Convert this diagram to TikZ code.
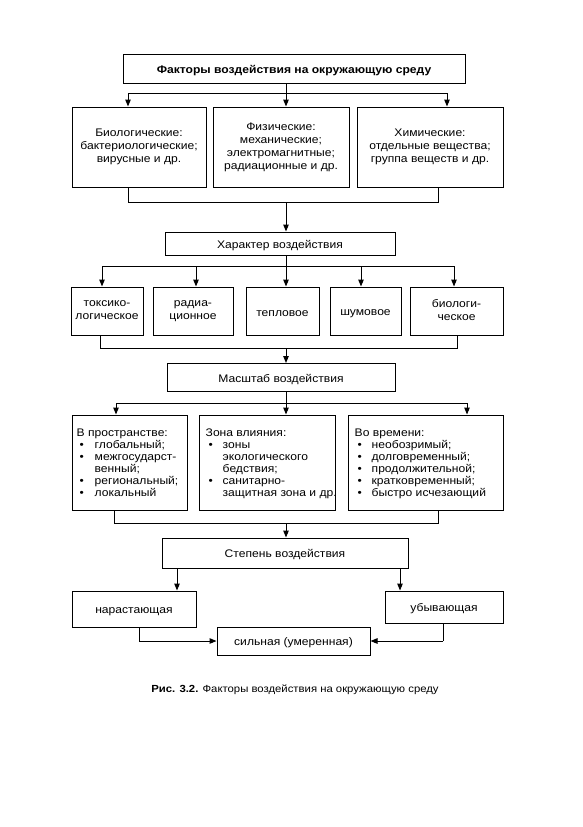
\documentclass[tikz,border=0pt]{standalone}
\usepackage{fontspec}
\setmainfont[FakeStretch=1.1]{Liberation Sans}
\usetikzlibrary{arrows.meta}
\begin{document}
\begin{tikzpicture}[x=1pt,y=-1pt,
  bx/.style={draw,line width=1pt,inner sep=0pt,align=center,
    font=\fontsize{11}{13}\selectfont,
    execute at begin node={\rule[-2pt]{0pt}{14pt}}},
  txt/.style={inner sep=0pt,align=left,anchor=north west,
    font=\fontsize{11}{12}\selectfont},
  ln/.style={line width=1pt},
  arr/.style={line width=1pt,-{Triangle[length=7pt,width=5.5pt]}}]
\useasboundingbox[fill=white] (0,0) rectangle (583,827);

% level 1
\node[bx,minimum width=342pt,minimum height=29pt,font=\bfseries\fontsize{11}{12}\selectfont] (top) at (294,68.5) {Факторы воздействия на окружающую среду};
\node[bx,minimum width=134pt,minimum height=80pt] (b1) at (139,147) {Биологические:\\бактериологические;\\вирусные и др.};
\node[bx,minimum width=136pt,minimum height=80pt] (b2) at (281,147) {Физические:\\механические;\\электромагнитные;\\радиационные и др.};
\node[bx,minimum width=146pt,minimum height=80pt] (b3) at (430,147) {Химические:\\отдельные вещества;\\группа веществ и др.};

\coordinate (a0) at (286,93);
\coordinate (a1) at (128,93);
\coordinate (a3) at (447,93);
\draw[ln] (a0 |- top.south) -- (a0);
\draw[ln] (a1) -- (a3);
\draw[arr] (a1) -- (a1 |- b1.north);
\draw[arr] (a0) -- (a0 |- b2.north);
\draw[arr] (a3) -- (a3 |- b3.north);

% level 2
\node[bx,minimum width=230pt,minimum height=23pt] (har) at (280,243.5) {Характер воздействия};
\coordinate (c0) at (286,202);
\coordinate (c1) at (128,202);
\coordinate (c3) at (438,202);
\draw[ln] (c1 |- b1.south) -- (c1) -- (c3) -- (c3 |- b3.south);
\draw[arr] (c0) -- (c0 |- har.north);

% level 3
\node[bx,minimum width=72pt,minimum height=48pt] (k1) at (107,311) {токсико-\\логическое};
\node[bx,minimum width=80pt,minimum height=48pt] (k2) at (193,311) {радиа-\\ционное};
\node[bx,minimum width=73pt,minimum height=48pt] (k3) at (282.5,311) {тепловое};
\node[bx,minimum width=71pt,minimum height=48pt] (k4) at (365.5,311) {шумовое};
\node[bx,minimum width=93pt,minimum height=48pt] (k5) at (456.5,311) {биологи-\\ческое};
\coordinate (d0) at (286,266);
\coordinate (d1) at (102,266);
\coordinate (d2) at (196,266);
\coordinate (d4) at (361,266);
\coordinate (d5) at (454,266);
\draw[ln] (d0 |- har.south) -- (d0);
\draw[ln] (d1) -- (d5);
\draw[arr] (d1) -- (d1 |- k1.north);
\draw[arr] (d2) -- (d2 |- k2.north);
\draw[arr] (d0) -- (d0 |- k3.north);
\draw[arr] (d4) -- (d4 |- k4.north);
\draw[arr] (d5) -- (d5 |- k5.north);

% level 4
\node[bx,minimum width=228pt,minimum height=28pt] (mas) at (281,377.5) {Масштаб воздействия};
\coordinate (e0) at (286,348);
\coordinate (e1) at (100,348);
\coordinate (e5) at (457,348);
\draw[ln] (e1 |- k1.south) -- (e1) -- (e5) -- (e5 |- k5.south);
\draw[arr] (e0) -- (e0 |- mas.north);

% level 5
\node[bx,minimum width=115pt,minimum height=95pt] (p1) at (129.5,462.5) {};
\node[bx,minimum width=136pt,minimum height=95pt] (p2) at (267,462.5) {};
\node[bx,minimum width=155pt,minimum height=95pt] (p3) at (425.5,462.5) {};
\node[txt] (t1) at ([xshift=5pt,yshift=-13pt]p1.north west) {\begin{tabular}{@{}p{18pt}@{}l@{}}
\multicolumn{2}{@{}l@{}}{В пространстве:}\\
\hspace{3pt}• & глобальный;\\
\hspace{3pt}• & межгосударст-\\
 & венный;\\
\hspace{3pt}• & региональный;\\
\hspace{3pt}• & локальный
\end{tabular}};
\node[txt] (t2) at ([xshift=7pt,yshift=-13pt]p2.north west) {\begin{tabular}{@{}p{17pt}@{}l@{}}
\multicolumn{2}{@{}l@{}}{Зона влияния:}\\
\hspace{3pt}• & зоны\\
 & экологического\\
 & бедствия;\\
\hspace{3pt}• & санитарно-\\
 & защитная зона и др.
\end{tabular}};
\node[txt] (t3) at ([xshift=7pt,yshift=-13pt]p3.north west) {\begin{tabular}{@{}p{17pt}@{}l@{}}
\multicolumn{2}{@{}l@{}}{Во времени:}\\
\hspace{3pt}• & необозримый;\\
\hspace{3pt}• & долговременный;\\
\hspace{3pt}• & продолжительной;\\
\hspace{3pt}• & кратковременный;\\
\hspace{3pt}• & быстро исчезающий
\end{tabular}};
\coordinate (f0) at (286,403);
\coordinate (f1) at (116,403);
\coordinate (f3) at (467,403);
\draw[ln] (f0 |- mas.south) -- (f0);
\draw[ln] (f1) -- (f3);
\draw[arr] (f1) -- (f1 |- p1.north);
\draw[arr] (f0) -- (f0 |- p2.north);
\draw[arr] (f3) -- (f3 |- p3.north);

% level 6
\node[bx,minimum width=246pt,minimum height=30pt] (st) at (285,553) {Степень воздействия};
\coordinate (g0) at (286,523);
\coordinate (g1) at (114,523);
\coordinate (g3) at (438,523);
\draw[ln] (g1 |- p1.south) -- (g1) -- (g3) -- (g3 |- p3.south);
\draw[arr] (g0) -- (g0 |- st.north);

% level 7
\node[bx,minimum width=124pt,minimum height=36pt] (nar) at (134,609) {нарастающая};
\node[bx,minimum width=118pt,minimum height=32pt] (ub) at (444,607) {убывающая};
\node[bx,minimum width=153pt,minimum height=28pt] (sil) at (293.5,641) {сильная (умеренная)};
\coordinate (h1) at (177,568);
\coordinate (h3) at (400,568);
\draw[arr] (h1 |- st.south) -- (h1 |- nar.north);
\draw[arr] (h3 |- st.south) -- (h3 |- ub.north);
\coordinate (m1) at (139,641);
\coordinate (m3) at (443,641);
\draw[ln] (m1 |- nar.south) -- (m1);
\draw[arr] (m1) -- (sil.west);
\draw[ln] (m3 |- ub.south) -- (m3);
\draw[arr] (m3) -- (sil.east);

% caption
\node[inner sep=0pt,font=\fontsize{10.3}{12}\selectfont] (cap) at (295,690) {\textbf{Рис. 3.2.} Факторы воздействия на окружающую среду};
\end{tikzpicture}
\end{document}
